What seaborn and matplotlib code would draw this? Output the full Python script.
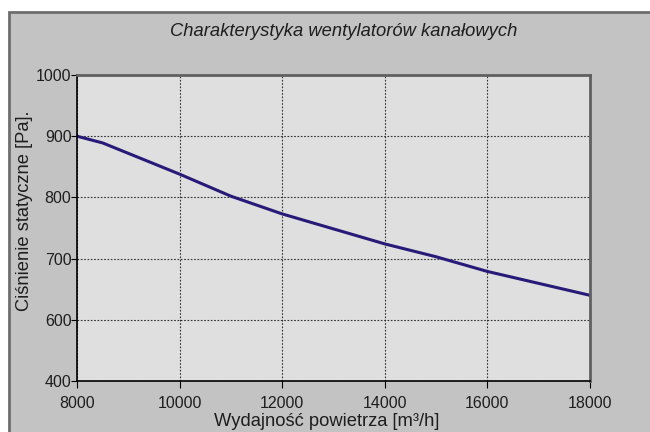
import matplotlib
matplotlib.use("Agg")
import matplotlib.pyplot as plt
import pandas as pd
import seaborn as sns
from matplotlib.patches import Rectangle

# data
flow = [8000, 8500, 10000, 11000, 12000, 14000, 15000, 16000, 18000]
pressure = [900, 889, 838, 802, 773, 724, 703, 679, 640]

x_ticks = [8000, 10000, 12000, 14000, 16000, 18000]
y_ticks = [500, 600, 700, 800, 900, 1000]
y_ticklabels = ["400", "600", "700", "800", "900", "1000"]

title = "Charakterystyka wentylatorów kanałowych"
x_label = "Wydajność powietrza [m³/h]"
y_label = "Ciśnienie statyczne [Pa]."

plt.rcParams["font.family"] = ["Liberation Sans", "DejaVu Sans"]

df = pd.DataFrame({"flow": flow, "pressure": pressure})

fig = plt.figure(figsize=(6.5, 4.32), dpi=100, facecolor="white")
# gray panel with a dark frame on top/left
fig.patches.append(
    Rectangle((9 / 650, -0.05), 1.1, 1 - 12 / 432 + 0.05, transform=fig.transFigure,
              facecolor="#c3c3c3", edgecolor="#6e6e6e", linewidth=2, zorder=-10)
)

ax = fig.add_axes([77 / 650, 1 - 381 / 432, (590 - 77) / 650, (381 - 75) / 432])
ax.set_facecolor("#dfdfdf")

sns.lineplot(data=df, x="flow", y="pressure", ax=ax, color="#271a78", linewidth=2.2)

ax.set_xlim(8000, 18000)
ax.set_ylim(500, 1000)
ax.set_xticks(x_ticks)
ax.set_yticks(y_ticks)
ax.set_yticklabels(y_ticklabels)
ax.grid(True, color="#303030", linestyle=(0, (1.5, 1.5)), linewidth=0.8)
ax.set_axisbelow(True)

ax.tick_params(axis="both", labelsize=11.5, colors="black", labelcolor="#1e1e1e", direction="out")
ax.tick_params(axis="y", length=4, pad=0)
ax.tick_params(axis="x", length=5, pad=6)

for side in ["left", "bottom"]:
    ax.spines[side].set_color("black")
    ax.spines[side].set_linewidth(1.2)
for side in ["top", "right"]:
    ax.spines[side].set_color("#606060")
    ax.spines[side].set_linewidth(2)

ax.set_xlabel("")
ax.set_ylabel("")
fig.text(327 / 650, 1 - 422 / 432, x_label, ha="center", va="center", fontsize=13.2, color="#1e1e1e")
fig.text(25 / 650, 1 - 211 / 432, y_label, ha="center", va="center", rotation=90, fontsize=13.2,
         color="#1e1e1e")
fig.text(344 / 650, 1 - 31 / 432, title, ha="center", va="center", fontsize=13.2, style="italic",
         color="#1e1e1e")

fig.savefig("out.png", dpi=100, facecolor=fig.get_facecolor())
